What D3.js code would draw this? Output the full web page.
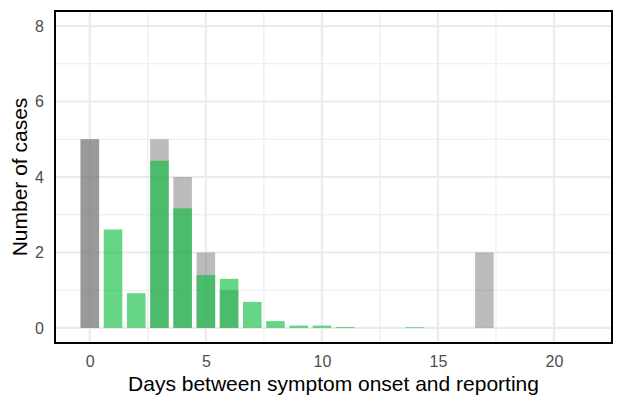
<!DOCTYPE html>
<html>
<head>
<meta charset="utf-8">
<script src="https://cdn.jsdelivr.net/npm/d3@7"></script>
<style>
  body { margin: 0; background: #fff; }
  text { font-family: "Liberation Sans", Arial, sans-serif; }
</style>
</head>
<body>
<div id="chart"></div>
<script>
// grey layer (reported cases), drawn with alpha so overlaps get darker
var greyDays = [0, 3, 4, 5, 6, 17];
var greyCounts = [5, 5, 4, 2, 1, 2];
// second grey layer, only day 0
var greyDays2 = [0];
var greyCounts2 = [5];
// green layer (estimated)
var greenDays = [1, 2, 3, 4, 5, 6, 7, 8, 9, 10, 11, 14];
var greenCounts = [2.61, 0.92, 4.43, 3.17, 1.4, 1.3, 0.69, 0.18, 0.06, 0.06, 0.025, 0.02];

var xTicks = [0, 5, 10, 15, 20];
var yTicks = [0, 2, 4, 6, 8];
var xMinor = [2.5, 7.5, 12.5, 17.5];
var yMinor = [1, 3, 5, 7];

var svgWidth = 622;
var svgHeight = 405;
var margin = { top: 11, right: 10, bottom: 62, left: 55 };
var width = svgWidth - margin.left - margin.right;
var height = svgHeight - margin.top - margin.bottom;

var svg = d3.select("#chart")
    .append("svg")
    .attr("width", svgWidth)
    .attr("height", svgHeight);

var chartGroup = svg.append("g")
    .attr("transform", `translate(${margin.left}, ${margin.top})`);

var xscale = d3.scaleLinear().domain([-1.5, 22.5]).range([0, width]);
var yscale = d3.scaleLinear().domain([-0.4, 8.4]).range([height, 0]);
var barW = xscale(0.8) - xscale(0);

// grid lines
chartGroup.selectAll(".xminor").data(xMinor).enter().append("line")
    .attr("x1", d => xscale(d)).attr("x2", d => xscale(d))
    .attr("y1", 0).attr("y2", height)
    .attr("stroke", "#ebebeb").attr("stroke-width", 1.1);
chartGroup.selectAll(".yminor").data(yMinor).enter().append("line")
    .attr("y1", d => yscale(d)).attr("y2", d => yscale(d))
    .attr("x1", 0).attr("x2", width)
    .attr("stroke", "#ebebeb").attr("stroke-width", 1.1);
chartGroup.selectAll(".xmajor").data(xTicks).enter().append("line")
    .attr("x1", d => xscale(d)).attr("x2", d => xscale(d))
    .attr("y1", 0).attr("y2", height)
    .attr("stroke", "#ebebeb").attr("stroke-width", 2.1);
chartGroup.selectAll(".ymajor").data(yTicks).enter().append("line")
    .attr("y1", d => yscale(d)).attr("y2", d => yscale(d))
    .attr("x1", 0).attr("x2", width)
    .attr("stroke", "#ebebeb").attr("stroke-width", 2.1);

function drawBars(days, counts, color, alpha) {
    chartGroup.append("g").selectAll("rect")
        .data(days.map((d, i) => ({ day: d, n: counts[i] })))
        .enter()
        .append("rect")
        .attr("x", d => xscale(d.day) - barW / 2)
        .attr("width", barW)
        .attr("y", d => yscale(d.n))
        .attr("height", d => yscale(0) - yscale(d.n))
        .attr("fill", color)
        .attr("fill-opacity", alpha);
}

drawBars(greyDays, greyCounts, "#777777", 0.5);
drawBars(greyDays2, greyCounts2, "#777777", 0.5);
drawBars(greenDays, greenCounts, "#08bd3c", 0.62);

// panel border
chartGroup.append("rect")
    .attr("x", 0).attr("y", 0)
    .attr("width", width).attr("height", height)
    .attr("fill", "none").attr("stroke", "black").attr("stroke-width", 2);

// axes (labels only)
var bottomAxis = d3.axisBottom(xscale).tickValues(xTicks).tickSize(0).tickPadding(13);
var leftAxis = d3.axisLeft(yscale).tickValues(yTicks).tickSize(0).tickPadding(11);

var xAxis = chartGroup.append("g")
    .attr("transform", `translate(0, ${height})`)
    .call(bottomAxis);
var yAxis = chartGroup.append("g").call(leftAxis);
[xAxis, yAxis].forEach(a => {
    a.select(".domain").remove();
    a.selectAll("text").attr("fill", "#4d4d4d").style("font-size", "16px");
});

// axis titles
chartGroup.append("text")
    .attr("transform", "rotate(-90)")
    .attr("x", -height / 2)
    .attr("y", -margin.left + 27)
    .attr("text-anchor", "middle")
    .style("font-size", "21px")
    .text("Number of cases");

chartGroup.append("text")
    .attr("x", width / 2)
    .attr("y", height + 48)
    .attr("text-anchor", "middle")
    .style("font-size", "21px")
    .text("Days between symptom onset and reporting");
</script>
</body>
</html>
